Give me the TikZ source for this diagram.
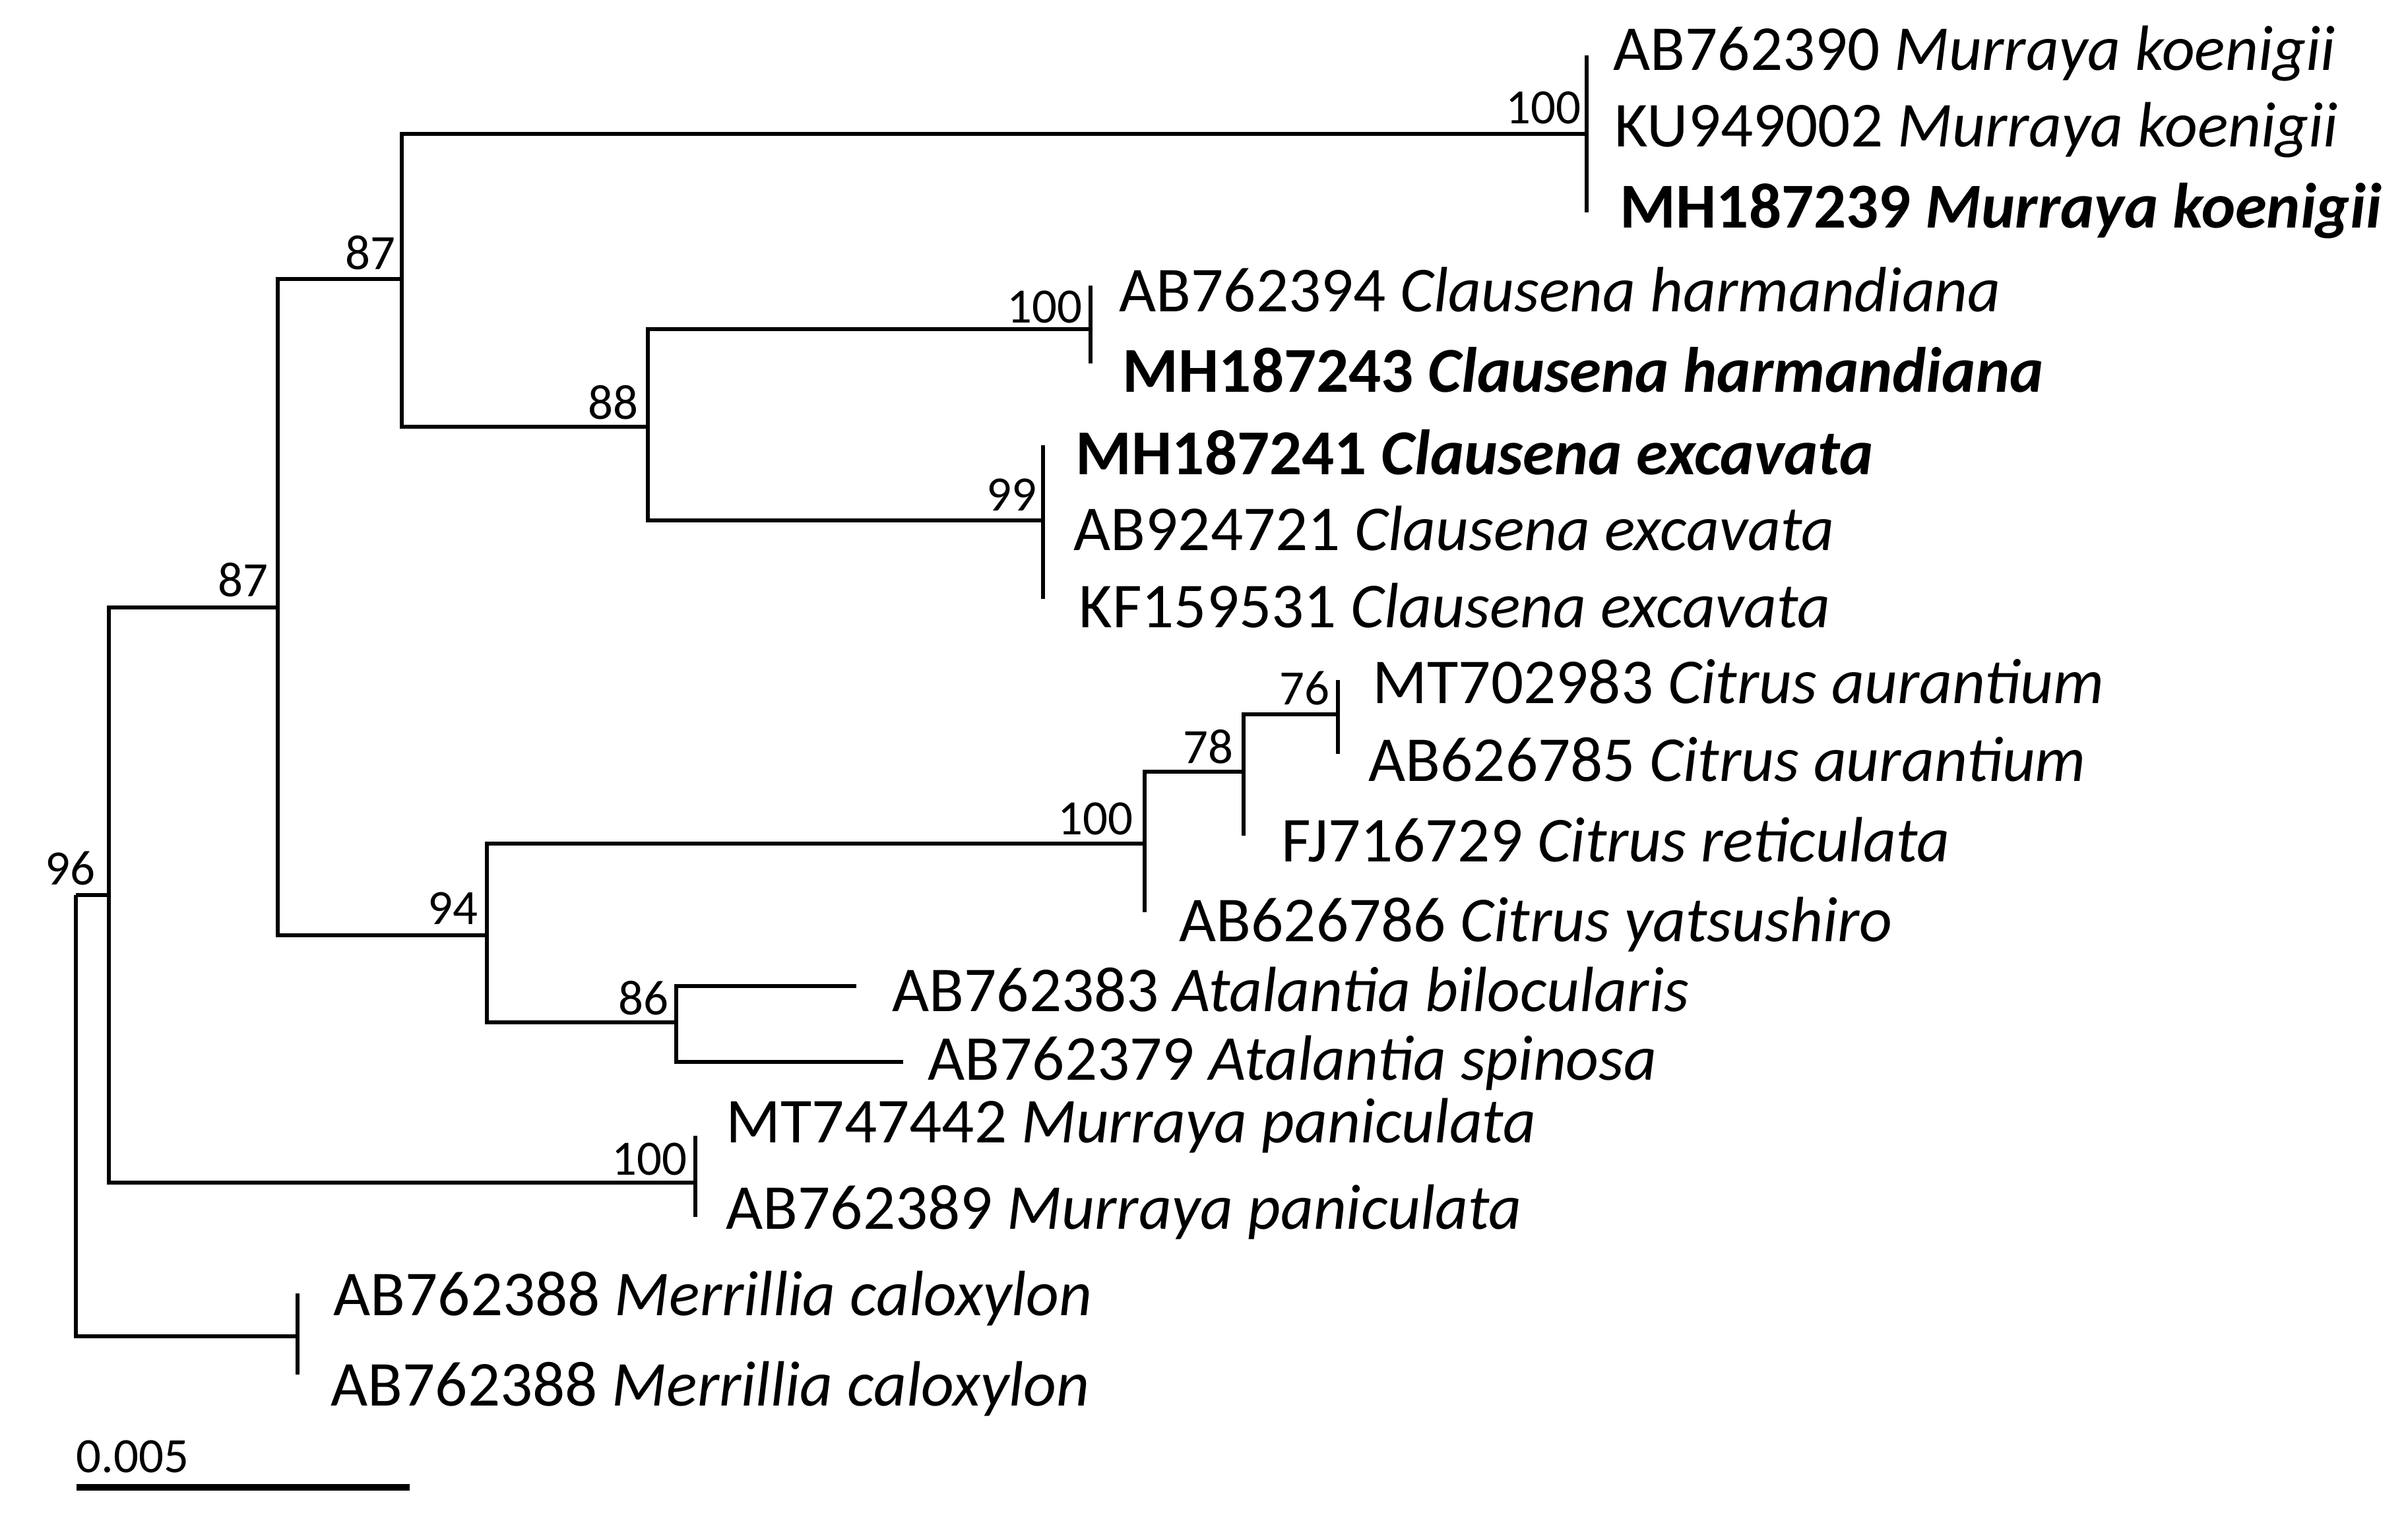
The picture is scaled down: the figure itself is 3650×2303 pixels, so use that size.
\documentclass[tikz,border=0pt]{standalone}
\usepackage{fontspec}
\setmainfont{Carlito}
\begin{document}
\begin{tikzpicture}[x=0.01cm,y=-0.01cm,
  br/.style={line width=1.85pt, line join=miter},
  tick/.style={line width=1.7pt},
  tx/.style={anchor=base west, inner sep=0pt, font=\fontsize{27.6}{30}\selectfont},
  bs/.style={anchor=base east, inner sep=0pt, font=\fontsize{21.3}{24}\selectfont}]
\fill[white] (0,0) rectangle (3650,2303);
\useasboundingbox (0,0) rectangle (3650,2303);
% internal nodes and tips
\coordinate (root) at (115,1357);
\coordinate (n96) at (165,1357);
\coordinate (n87a) at (421,921);
\coordinate (n87b) at (609,423);
\coordinate (koen) at (2405,203);
\coordinate (n88) at (982,647);
\coordinate (harm) at (1653,499);
\coordinate (exc) at (1581,789);
\coordinate (n94) at (738,1418);
\coordinate (n100c) at (1735,1279);
\coordinate (yats) at (1735,1383);
\coordinate (n78) at (1885,1170);
\coordinate (fj) at (1885,1267);
\coordinate (n76) at (2028,1083);
\coordinate (n86) at (1025,1550);
\coordinate (bil) at (1298,1495);
\coordinate (spi) at (1369,1610);
\coordinate (pan) at (1054,1793);
\coordinate (merr) at (451,2026);
% tick ends
\coordinate (koenT) at (2405,84);   \coordinate (koenB) at (2405,322);
\coordinate (harmT) at (1653,433);  \coordinate (harmB) at (1653,551);
\coordinate (excT) at (1581,675);   \coordinate (excB) at (1581,908);
\coordinate (n76T) at (2028,1031);  \coordinate (n76B) at (2028,1143);
\coordinate (panT) at (1054,1722);  \coordinate (panB) at (1054,1845);
\coordinate (merrT) at (451,1961);  \coordinate (merrB) at (451,2084);
% branches
\draw[br] (root) |- (n96);
\draw[br] (root) |- (merr);
\draw[br] (n96) |- (n87a);
\draw[br] (n96) |- (pan);
\draw[br] (n87a) |- (n87b);
\draw[br] (n87a) |- (n94);
\draw[br] (n87b) |- (koen);
\draw[br] (n87b) |- (n88);
\draw[br] (n88) |- (harm);
\draw[br] (n88) |- (exc);
\draw[br] (n94) |- (n100c);
\draw[br] (n94) |- (n86);
\draw[br] (n100c) |- (n78);
\draw[br] (n100c) -- (yats);
\draw[br] (n78) |- (n76);
\draw[br] (n78) -- (fj);
\draw[br] (n86) |- (bil);
\draw[br] (n86) |- (spi);
% zero-length clades
\draw[tick] (koenT) -- (koenB);
\draw[tick] (harmT) -- (harmB);
\draw[tick] (excT) -- (excB);
\draw[tick] (n76T) -- (n76B);
\draw[tick] (panT) -- (panB);
\draw[tick] (merrT) -- (merrB);
% bootstrap values
\node[bs] (b1) at (2397,188) {100};
\node[bs] (b2) at (600,408) {87};
\node[bs] (b3) at (1641,489) {100};
\node[bs] (b4) at (968,635) {88};
\node[bs] (b5) at (1572,774) {99};
\node[bs] (b6) at (407,904) {87};
\node[bs] (b7) at (2016,1068) {76};
\node[bs] (b8) at (1870,1157) {78};
\node[bs] (b9) at (1718,1265) {100};
\node[bs] (b10) at (145,1341) {96};
\node[bs] (b11) at (725,1401) {94};
\node[bs] (b12) at (1014,1538) {86};
\node[bs] (b13) at (1042,1781) {100};
% taxa
\node[tx] (t1) at (2445,107) {AB762390 \textit{Murraya koenigii}};
\node[tx] (t2) at (2447,223) {KU949002 \textit{Murraya koenigii}};
\node[tx] (t3) at (2455,346) {\textbf{MH187239 \textit{Murraya koenigii}}};
\node[tx] (t4) at (1696,472) {AB762394 \textit{Clausena harmandiana}};
\node[tx] (t5) at (1701,594) {\textbf{MH187243 \textit{Clausena harmandiana}}};
\node[tx] (t6) at (1630,719) {\textbf{MH187241 \textit{Clausena excavata}}};
\node[tx] (t7) at (1627,834) {AB924721 \textit{Clausena excavata}};
\node[tx] (t8) at (1635,951) {KF159531 \textit{Clausena excavata}};
\node[tx] (t9) at (2080,1066) {MT702983 \textit{Citrus aurantium}};
\node[tx] (t10) at (2074,1184) {AB626785 \textit{Citrus aurantium}};
\node[tx] (t11) at (1942,1306) {FJ716729 \textit{Citrus reticulata}};
\node[tx] (t12) at (1787,1427) {AB626786 \textit{Citrus yatsushiro}};
\node[tx] (t13) at (1352,1533) {AB762383 \textit{Atalantia bilocularis}};
\node[tx] (t14) at (1406,1637) {AB762379 \textit{Atalantia spinosa}};
\node[tx] (t15) at (1100,1732) {MT747442 \textit{Murraya paniculata}};
\node[tx] (t16) at (1100,1863) {AB762389 \textit{Murraya paniculata}};
\node[tx] (t17) at (505,1994) {AB762388 \textit{Merrillia caloxylon}};
\node[tx] (t18) at (501,2131) {AB762388 \textit{Merrillia caloxylon}};
% scale bar
\coordinate (sbL) at (116,2255);
\coordinate (sbR) at (621,2255);
\draw[line width=2.6pt] (sbL) -- (sbR);
\node[anchor=base west, inner sep=0pt, font=\fontsize{21.3}{24}\selectfont] (sbl) at (115,2232) {0.005};
\end{tikzpicture}
\end{document}
